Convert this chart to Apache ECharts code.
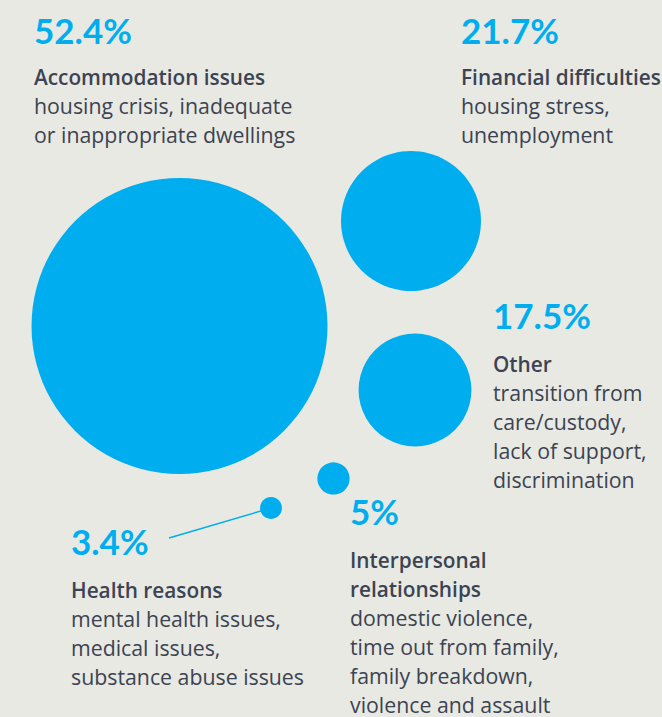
<!DOCTYPE html>
<html><head><meta charset="utf-8">
<script src="https://cdn.jsdelivr.net/npm/echarts@6/dist/echarts.min.js"></script>
<style>html,body{margin:0;padding:0;background:#e8e9e2}#c{width:662px;height:717px}</style>
</head><body><div id="c"></div>
<script>
// ---- data ----
const categories = ['Accommodation issues', 'Financial difficulties', 'Other', 'Interpersonal relationships', 'Health reasons'];
const values = [52.4, 21.7, 17.5, 5, 3.4];
const valueLabels = ['52.4%', '21.7%', '17.5%', '5%', '3.4%'];
const descriptions = [
  ['housing crisis, inadequate', 'or inappropriate dwellings'],
  ['housing stress,', 'unemployment'],
  ['transition from', 'care/custody,', 'lack of support,', 'discrimination'],
  ['domestic violence,', 'time out from family,', 'family breakdown,', 'violence and assault'],
  ['mental health issues,', 'medical issues,', 'substance abuse issues']
];

// ---- layout (bubble-chart placement, in chart units) ----
const bubbleCentres = [[179.5, 326], [411, 221], [415, 390], [333.5, 478.5], [271, 508]];
const sizeScale = 6.45, maxDiameter = 296;
const blocks = [
  { x: 34, pct: 42, title: 84, wrap: false },
  { x: 461, pct: 42, title: 84, wrap: false },
  { x: 493, pct: 327, title: 371, wrap: false },
  { x: 350, pct: 523, title: 567, wrap: true },
  { x: 71, pct: 553, title: 597, wrap: false }
];
const connectorAnchor = [169, 538]; // label end of the Health reasons leader line
const LH = 29;
const BLUE = '#00aeef', INK = '#3c4352';
const BODY_FONT = '"Open Sans", Lato, sans-serif', PCT_FONT = 'Lato, sans-serif';
const PCT_FS = 35, TITLE_FS = 20.8, BODY_FS = 21.3;

const graphics = [];
function addLine(x, baseline, text, fs, weight, color, fam) {
  graphics.push({
    type: 'text', x: x, y: baseline - fs * 0.34, silent: true,
    style: { text: text, fill: color, fontSize: fs, fontWeight: weight, fontFamily: fam, align: 'left', verticalAlign: 'middle' }
  });
}
blocks.forEach((b, i) => {
  addLine(b.x, b.pct, valueLabels[i], PCT_FS, 'bold', BLUE, PCT_FONT);
  const titleLines = b.wrap ? categories[i].split(' ') : [categories[i]];
  let y = b.title;
  titleLines.forEach(t => { addLine(b.x, y, t, TITLE_FS, 600, INK, BODY_FONT); y += LH; });
  descriptions[i].forEach(t => { addLine(b.x, y, t, BODY_FS, 'normal', INK, BODY_FONT); y += LH; });
});

const chart = echarts.init(document.getElementById('c'), null, { renderer: 'svg' });
chart.setOption({
  backgroundColor: '#e8e9e2',
  animation: false,
  grid: { left: 0, right: 0, top: 0, bottom: 0 },
  xAxis: { type: 'value', min: 0, max: 662, show: false },
  yAxis: { type: 'value', min: 0, max: 717, inverse: true, show: false },
  series: [
    {
      type: 'line', silent: true, symbol: 'none', z: 1,
      data: [connectorAnchor, bubbleCentres[4]],
      lineStyle: { color: BLUE, width: 1.5 }
    },
    {
      type: 'scatter', silent: true, z: 2,
      data: values.map((v, i) => ({ name: categories[i], value: [bubbleCentres[i][0], bubbleCentres[i][1], v] })),
      symbolSize: d => Math.min(d[2] * sizeScale, maxDiameter),
      itemStyle: { color: BLUE, opacity: 1 }
    }
  ],
  graphic: graphics
});
</script>
</body></html>
